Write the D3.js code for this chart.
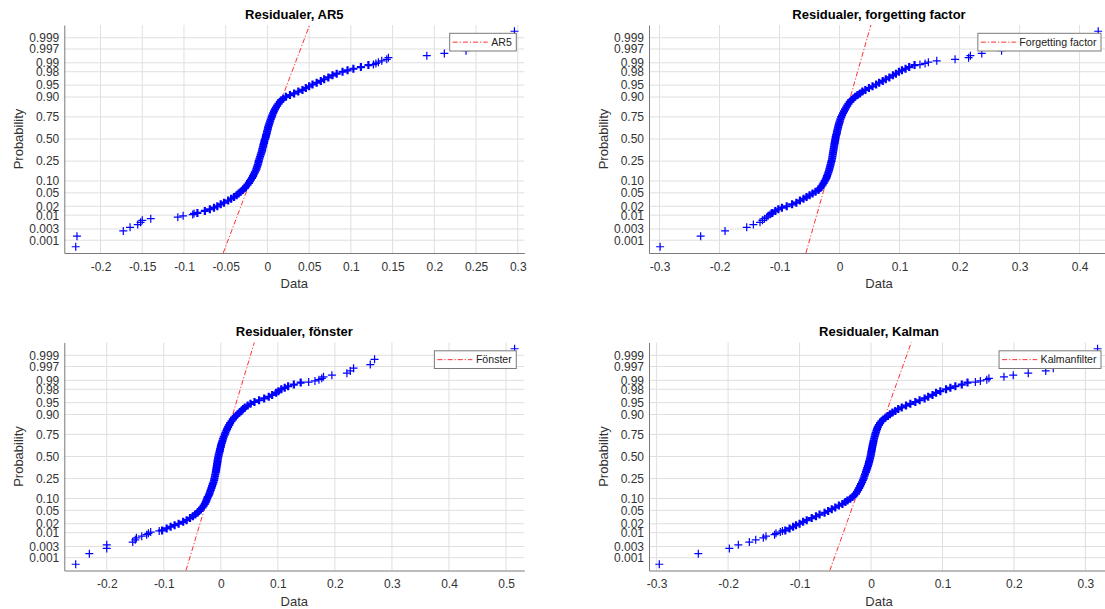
<!DOCTYPE html>
<html>
<head>
<meta charset="utf-8">
<script src="https://cdn.jsdelivr.net/npm/d3@7"></script>
<style>
  body { margin: 0; background: #fff; }
  svg { display: block; font-family: "Liberation Sans", Arial, Helvetica, sans-serif; }
  .grid line { stroke: #dfdfdf; stroke-width: 1; }
  .axis path, .axis line { stroke: #7a7a7a; }
  .axis text { fill: #333; font-size: 12px; }
</style>
</head>
<body>
<div id="chart"></div>
<script>
// sample size behind the rank positions of the tail points
var N = 1000;

var yTickP = [0.001, 0.003, 0.01, 0.02, 0.05, 0.10, 0.25, 0.50, 0.75, 0.90, 0.95, 0.98, 0.99, 0.997, 0.999];
var yTickLabels = ["0.001", "0.003", "0.01", "0.02", "0.05", "0.10", "0.25", "0.50", "0.75", "0.90", "0.95", "0.98", "0.99", "0.997", "0.999"];
var yLimP = [0.00025, 0.99975];

// probability levels of the dense middle part, same for all four plots
var pLevels = [0.012, 0.014, 0.016, 0.018, 0.020, 0.023, 0.026, 0.030, 0.034, 0.038,
    0.043, 0.048, 0.054, 0.060, 0.067, 0.074, 0.082, 0.090, 0.099, 0.108,
    0.118, 0.129, 0.141, 0.154, 0.168, 0.183, 0.199, 0.216, 0.234, 0.253,
    0.273, 0.294, 0.316, 0.339, 0.362, 0.385, 0.408, 0.431, 0.454, 0.477,
    0.500,
    0.523, 0.546, 0.569, 0.592, 0.615, 0.638, 0.661, 0.684, 0.706, 0.727,
    0.747, 0.766, 0.784, 0.801, 0.817, 0.832, 0.846, 0.859, 0.871, 0.882,
    0.892, 0.901, 0.910, 0.918, 0.926, 0.933, 0.940, 0.946, 0.952, 0.957,
    0.962, 0.966, 0.970, 0.974, 0.977, 0.980, 0.982, 0.984, 0.986, 0.988];

// --- AR5 ---
var ar5Lo = [-0.2297, -0.2282, -0.1727, -0.1646, -0.1554, -0.1520, -0.1500, -0.1398, -0.1074, -0.1010, -0.0895, -0.0880];
var ar5Hi = [0.296, 0.270, 0.250, 0.238, 0.212, 0.191, 0.145, 0.143, 0.137, 0.133, 0.130, 0.127];
var ar5Body = [-0.0839, -0.0750, -0.0690, -0.0640, -0.0600, -0.0560, -0.0520, -0.0470, -0.0435, -0.0400,
    -0.0370, -0.0345, -0.0320, -0.0295, -0.0272, -0.0255, -0.0238, -0.0222, -0.0209, -0.0197,
    -0.0184, -0.0172, -0.0163, -0.0151, -0.0139, -0.0131, -0.0123, -0.0115, -0.0108, -0.0104,
    -0.0096, -0.0088, -0.0080, -0.0072, -0.0064, -0.0060, -0.0052, -0.0048, -0.0040, -0.0036,
    -0.0028,
    -0.0020, -0.0016, -0.0008, -0.0004, 0.0004, 0.0008, 0.0016, 0.0024, 0.0032, 0.0040,
    0.0050, 0.0058, 0.0068, 0.0078, 0.0090, 0.0103, 0.0117, 0.0132, 0.0148, 0.0166,
    0.0190, 0.0222, 0.0270, 0.0320, 0.0370, 0.0420, 0.0460, 0.0500, 0.0540, 0.0590,
    0.0640, 0.0680, 0.0730, 0.0780, 0.0830, 0.0900, 0.0960, 0.1030, 0.1120, 0.1210];
var ar5Ref = [-0.0472, 0.0448];   // reference line at p = 0.001 and p = 0.999
var ar5XLim = [-0.2434, 0.3078];
var ar5XTicks = [-0.2, -0.15, -0.1, -0.05, 0, 0.05, 0.1, 0.15, 0.2, 0.25, 0.3];

// --- forgetting factor ---
var ffLo = [-0.299, -0.2314, -0.1908, -0.1547, -0.1436, -0.1325, -0.1286, -0.125, -0.1214, -0.119, -0.1158, -0.114];
var ffHi = [0.431, 0.370, 0.300, 0.270, 0.237, 0.218, 0.215, 0.1925, 0.162, 0.148, 0.1425, 0.134];
var ffBody = [-0.112, -0.107, -0.102, -0.096, -0.088, -0.079, -0.072, -0.066, -0.060, -0.055,
    -0.050, -0.045, -0.040, -0.035, -0.0319, -0.0303, -0.0281, -0.0264, -0.0247, -0.0231,
    -0.0219, -0.0208, -0.0197, -0.0186, -0.0175, -0.0167, -0.0158, -0.0150, -0.0142, -0.0133,
    -0.0125, -0.0119, -0.0114, -0.0108, -0.0103, -0.0097, -0.0092, -0.0086, -0.0081, -0.0075,
    -0.0069,
    -0.0064, -0.0056, -0.0047, -0.0042, -0.0033, -0.0025, -0.0017, -0.0008, 0.0003, 0.0014,
    0.0028, 0.0042, 0.0058, 0.0075, 0.0092, 0.0110, 0.0128, 0.0148, 0.0170, 0.0195,
    0.0230, 0.0260, 0.0300, 0.0340, 0.0380, 0.0430, 0.0490, 0.0550, 0.0610, 0.0660,
    0.0720, 0.0770, 0.0830, 0.0890, 0.0940, 0.0990, 0.1040, 0.1100, 0.1160, 0.1250];
var ffRef = [-0.0500, 0.0462];
var ffXLim = [-0.3175, 0.449];
var ffXTicks = [-0.3, -0.2, -0.1, 0, 0.1, 0.2, 0.3, 0.4];

// --- fönster ---
var fLo = [-0.2544, -0.2305, -0.200, -0.200, -0.1544, -0.150, -0.148, -0.1386, -0.130, -0.127, -0.123, -0.108];
var fHi = [0.515, 0.2695, 0.262, 0.2327, 0.227, 0.221, 0.1947, 0.180, 0.177, 0.172, 0.165, 0.154];
var fBody = [-0.103, -0.095, -0.088, -0.081, -0.074, -0.066, -0.060, -0.054, -0.049, -0.045,
    -0.041, -0.038, -0.035, -0.032, -0.030, -0.0281, -0.0264, -0.0252, -0.0240, -0.0229,
    -0.0211, -0.0199, -0.0188, -0.0176, -0.0164, -0.0153, -0.0141, -0.0129, -0.0118, -0.0112,
    -0.0103, -0.0097, -0.0088, -0.0082, -0.0077, -0.0071, -0.0065, -0.0059, -0.0056, -0.0050,
    -0.0042,
    -0.0036, -0.0027, -0.0018, -0.0012, -0.0001, 0.0005, 0.0017, 0.0029, 0.0040, 0.0052,
    0.0069, 0.0081, 0.0096, 0.0111, 0.0128, 0.0146, 0.0163, 0.0187, 0.0210, 0.0233,
    0.0263, 0.0292, 0.0327, 0.0362, 0.0390, 0.0420, 0.0470, 0.0520, 0.0590, 0.0670,
    0.0760, 0.0840, 0.0900, 0.0970, 0.1010, 0.1060, 0.1120, 0.1180, 0.1280, 0.1400];
var fRef = [-0.0544, 0.0520];
var fXLim = [-0.2744, 0.532];
var fXTicks = [-0.2, -0.1, 0, 0.1, 0.2, 0.3, 0.4, 0.5];

// --- Kalman ---
var kLo = [-0.2963, -0.2417, -0.1983, -0.1857, -0.1703, -0.1614, -0.1507, -0.147, -0.135, -0.133, -0.127, -0.124];
var kHi = [0.317, 0.290, 0.270, 0.255, 0.2445, 0.220, 0.199, 0.186, 0.165, 0.162, 0.153, 0.146];
var kBody = [-0.120, -0.114, -0.109, -0.105, -0.100, -0.095, -0.090, -0.083, -0.077, -0.072,
    -0.065, -0.060, -0.055, -0.050, -0.045, -0.040, -0.036, -0.033, -0.029, -0.026,
    -0.0235, -0.0210, -0.0196, -0.0180, -0.0166, -0.0152, -0.0140, -0.0126, -0.0114, -0.0103,
    -0.0093, -0.0084, -0.0072, -0.0063, -0.0054, -0.0044, -0.0035, -0.0028, -0.0021, -0.0014,
    -0.0007,
    -0.0002, 0.0003, 0.0008, 0.0013, 0.0018, 0.0024, 0.0030, 0.0036, 0.0043, 0.0050,
    0.0058, 0.0066, 0.0075, 0.0085, 0.0095, 0.0110, 0.0125, 0.0145, 0.0170, 0.0200,
    0.0235, 0.0265, 0.0300, 0.0340, 0.0380, 0.0430, 0.0490, 0.0550, 0.0620, 0.0680,
    0.0750, 0.0800, 0.0860, 0.0910, 0.0970, 0.1050, 0.1110, 0.1180, 0.1270, 0.1350];
var kRef = [-0.0513, 0.0499];
var kXLim = [-0.3107, 0.333];
var kXTicks = [-0.3, -0.2, -0.1, 0, 0.1, 0.2, 0.3];

var titles = ["Residualer, AR5", "Residualer, forgetting factor", "Residualer, fönster", "Residualer, Kalman"];
var legendNames = ["AR5", "Forgetting factor", "Fönster", "Kalmanfilter"];

// inverse standard normal cdf (Acklam)
function probit(p) {
    var a = [-39.69683028665376, 220.9460984245205, -275.9285104469687, 138.3577518672690, -30.66479806614716, 2.506628277459239];
    var b = [-54.47609879822406, 161.5858368580409, -155.6989798598866, 66.80131188771972, -13.28068155288572];
    var c = [-0.007784894002430293, -0.3223964580411365, -2.400758277161838, -2.549732539343734, 4.374664141464968, 2.938163982698783];
    var d = [0.007784695709041462, 0.3224671290700398, 2.445134137142996, 3.754408661907416];
    var q, r;
    if (p < 0.02425) {
        q = Math.sqrt(-2 * Math.log(p));
        return (((((c[0]*q+c[1])*q+c[2])*q+c[3])*q+c[4])*q+c[5]) / ((((d[0]*q+d[1])*q+d[2])*q+d[3])*q+1);
    }
    if (p > 1 - 0.02425) {
        q = Math.sqrt(-2 * Math.log(1 - p));
        return -(((((c[0]*q+c[1])*q+c[2])*q+c[3])*q+c[4])*q+c[5]) / ((((d[0]*q+d[1])*q+d[2])*q+d[3])*q+1);
    }
    q = p - 0.5; r = q * q;
    return (((((a[0]*r+a[1])*r+a[2])*r+a[3])*r+a[4])*r+a[5])*q / (((((b[0]*r+b[1])*r+b[2])*r+b[3])*r+b[4])*r+1);
}

var panels = [
    { lo: ar5Lo, hi: ar5Hi, body: ar5Body, ref: ar5Ref, xlim: ar5XLim, xticks: ar5XTicks, left: 64.3, top: 25 },
    { lo: ffLo, hi: ffHi, body: ffBody, ref: ffRef, xlim: ffXLim, xticks: ffXTicks, left: 649, top: 25 },
    { lo: fLo, hi: fHi, body: fBody, ref: fRef, xlim: fXLim, xticks: fXTicks, left: 64.3, top: 342.5 },
    { lo: kLo, hi: kHi, body: kBody, ref: kRef, xlim: kXLim, xticks: kXTicks, left: 649, top: 342.5 }
];

var width = 1105, height = 609;
var axW = 460, axH = 228;

var svg = d3.select("#chart").append("svg")
    .attr("width", width)
    .attr("height", height);
svg.append("rect").attr("width", width).attr("height", height).attr("fill", "#fff");

var fmt = function(d) { return String(+d.toFixed(2)); };

panels.forEach(function(pn, i) {
    var g = svg.append("g").attr("transform", "translate(" + pn.left + "," + pn.top + ")");

    var x = d3.scaleLinear().domain(pn.xlim).range([0, axW]);
    var yz = d3.scaleLinear().domain([probit(yLimP[0]), probit(yLimP[1])]).range([axH, 0]);
    var y = function(p) { return yz(probit(p)); };

    // grid
    g.append("g").attr("class", "grid")
        .selectAll("line").data(pn.xticks).enter().append("line")
        .attr("x1", function(d) { return x(d); }).attr("x2", function(d) { return x(d); })
        .attr("y1", 0).attr("y2", axH);
    g.append("g").attr("class", "grid")
        .selectAll("line").data(yTickP).enter().append("line")
        .attr("x1", 0).attr("x2", axW)
        .attr("y1", function(d) { return y(d); }).attr("y2", function(d) { return y(d); });

    // axes (box off: left and bottom only)
    g.append("g").attr("class", "axis")
        .attr("transform", "translate(0," + axH + ")")
        .call(d3.axisBottom(x).tickValues(pn.xticks).tickFormat(fmt).tickSize(0).tickPadding(9));
    g.append("g").attr("class", "axis")
        .call(d3.axisLeft(yz).tickValues(yTickP.map(probit))
            .tickFormat(function(d, j) { return yTickLabels[j]; }).tickSize(0).tickPadding(5));
    g.selectAll(".axis .domain").attr("stroke", "#7a7a7a");

    // reference line, extended to the y limits (drawn under the points)
    var z0 = probit(0.001), z1 = probit(0.999);
    var slope = (pn.ref[1] - pn.ref[0]) / (z1 - z0);
    var zA = probit(yLimP[0]), zB = probit(yLimP[1]);
    var refPts = [[pn.ref[0] + slope * (zA - z0), yLimP[0]], [pn.ref[0] + slope * (zB - z0), yLimP[1]]];

    g.append("path")
        .datum(refPts)
        .attr("d", d3.line().x(function(d) { return x(d[0]); }).y(function(d) { return y(d[1]); }))
        .attr("fill", "none")
        .attr("stroke", "#ff3030")
        .attr("stroke-width", 1)
        .attr("stroke-dasharray", "5,2,1.2,2");

    // points: tails by rank, middle at the shared levels
    var tails = [];
    pn.lo.forEach(function(v, k) { tails.push([v, (k + 0.5) / N]); });
    pn.hi.forEach(function(v, k) { tails.push([v, (N - k - 0.5) / N]); });
    var mid = pn.body.map(function(v, k) { return [v, pLevels[k]]; });

    var plus = "M-4,0H4M0,-4V4";
    g.selectAll("path.tail").data(tails).enter().append("path")
        .attr("class", "tail")
        .attr("d", plus)
        .attr("transform", function(d) { return "translate(" + x(d[0]) + "," + y(d[1]) + ")"; })
        .attr("fill", "none")
        .attr("stroke", "#0000ff")
        .attr("stroke-width", 1.2);
    // the middle is a dense cloud in the original, so heavier strokes
    g.selectAll("path.mid").data(mid).enter().append("path")
        .attr("class", "mid")
        .attr("d", plus)
        .attr("transform", function(d) { return "translate(" + x(d[0]) + "," + y(d[1]) + ")"; })
        .attr("fill", "none")
        .attr("stroke", "#0000ff")
        .attr("stroke-width", 2.2);

    // labels
    g.append("text")
        .attr("x", axW / 2).attr("y", -6.5)
        .attr("text-anchor", "middle")
        .attr("font-size", "13px").attr("font-weight", "bold").attr("fill", "#000")
        .text(titles[i]);
    g.append("text")
        .attr("x", axW / 2).attr("y", axH + 35)
        .attr("text-anchor", "middle")
        .attr("font-size", "13px").attr("fill", "#333")
        .text("Data");
    g.append("text")
        .attr("transform", "translate(-41," + (axH / 2) + ") rotate(-90)")
        .attr("text-anchor", "middle")
        .attr("font-size", "13px").attr("fill", "#333")
        .text("Probability");

    // legend
    var lg = g.append("g");
    var box = lg.append("rect").attr("fill", "#fff").attr("stroke", "#7a7a7a").attr("stroke-width", 1);
    var lt = lg.append("text")
        .attr("font-size", "10.6px").attr("fill", "#222")
        .text(legendNames[i]);
    var tw = lt.node().getComputedTextLength();
    var bw = 3 + 35 + 3.5 + tw + 4.5, bh = 17.7;
    var bx = axW - 8 - bw, by = 8.3;
    box.attr("x", bx).attr("y", by).attr("width", bw).attr("height", bh);
    lt.attr("x", bx + 41.5).attr("y", by + bh / 2 + 3.8);
    lg.append("line")
        .attr("x1", bx + 3).attr("x2", bx + 38)
        .attr("y1", by + bh / 2).attr("y2", by + bh / 2)
        .attr("stroke", "#ff3030").attr("stroke-width", 1)
        .attr("stroke-dasharray", "5,2,1.2,2");
});
</script>
</body>
</html>
